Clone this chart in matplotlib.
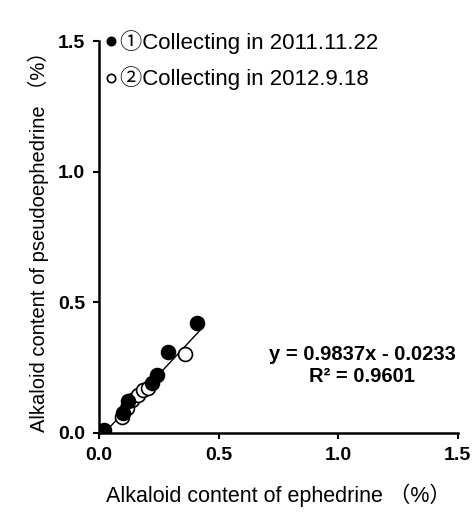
import numpy as np
import matplotlib
matplotlib.use('Agg')
import matplotlib.pyplot as plt

plt.rcParams['font.family'] = ['Liberation Sans', 'Noto Sans CJK JP', 'DejaVu Sans']

# collection 1 (2011.11.22) - filled circles
eph_2011 = [0.02, 0.10, 0.123, 0.22, 0.241, 0.29, 0.41]
pse_2011 = [0.01, 0.075, 0.12, 0.19, 0.222, 0.31, 0.42]

# collection 2 (2012.9.18) - open circles
eph_2012 = [0.095, 0.116, 0.140, 0.165, 0.185, 0.205, 0.36]
pse_2012 = [0.062, 0.095, 0.125, 0.146, 0.165, 0.172, 0.30]

slope = 0.9837
intercept = -0.0233
r2 = 0.9601
fit_range = [0.02, 0.43]

fig = plt.figure(figsize=(4.73, 5.14), dpi=100)
ax = fig.add_axes([0.209, 0.158, 0.759, 0.762])

# regression line
xf = np.array(fit_range)
ax.plot(xf, slope * xf + intercept, color='black', lw=1.0, zorder=1)

ax.plot(eph_2011, pse_2011, 'o', ms=10, mfc='black', mec='black', mew=1.2,
        label='\u2460Collecting in 2011.11.22', zorder=3)
ax.plot(eph_2012, pse_2012, 'o', ms=10, mfc='white', mec='black', mew=1.2,
        label='\u2461Collecting in 2012.9.18', zorder=2)

ax.text(1.10, 0.30, f'y = {slope}x - {abs(intercept)}', ha='center', va='center',
        fontsize=14.5, fontweight='bold')
ax.text(1.10, 0.215, f'R\u00b2 = {r2}', ha='center', va='center',
        fontsize=14.5, fontweight='bold')

leg = ax.legend(loc='upper left', bbox_to_anchor=(-0.01, 1.05), frameon=False,
                markerscale=0.6, handlelength=0.6, handletextpad=0.1,
                borderaxespad=0.0, labelspacing=0.55, fontsize=16)

ax.set_xlim(0, 1.5)
ax.set_ylim(0, 1.5)
ax.set_xticks([0, 0.5, 1.0, 1.5])
ax.set_yticks([0, 0.5, 1.0, 1.5])
ax.set_xticklabels(['0.0', '0.5', '1.0', '1.5'], fontweight='bold', fontsize=14)
ax.set_yticklabels(['0.0', '0.5', '1.0', '1.5'], fontweight='bold', fontsize=14)
ax.tick_params(direction='out', length=4, width=1.5, pad=6)

for s in ['top', 'right']:
    ax.spines[s].set_visible(False)
for s in ['left', 'bottom']:
    ax.spines[s].set_linewidth(1.8)

ax.set_xlabel('Alkaloid content of ephedrine \uff08%\uff09', fontsize=15.5, labelpad=14)
ax.set_ylabel('Alkaloid content of pseudoephedrine \uff08%\uff09', fontsize=14.5, labelpad=6)

fig.savefig('out.png', dpi=100)
